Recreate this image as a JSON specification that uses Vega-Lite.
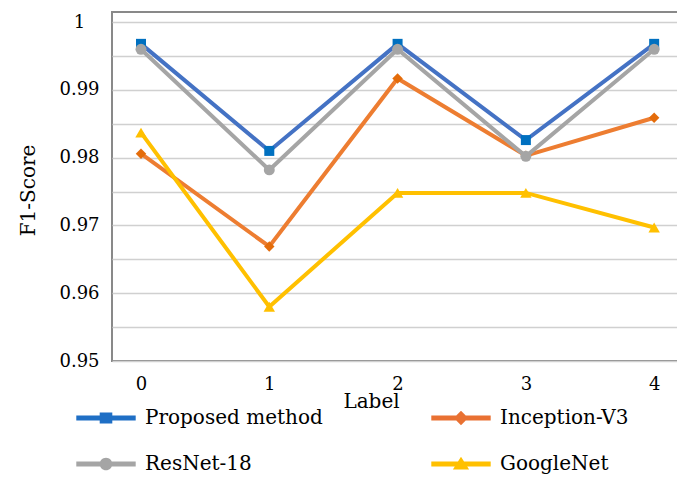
{
  "$schema": "https://vega.github.io/schema/vega-lite/v6.json",
  "width": 570,
  "height": 349,
  "autosize": {"type": "none"},
  "padding": {"left": 112, "top": 12, "right": 0, "bottom": 116},
  "background": "white",
  "config": {
    "font": "DejaVu Serif",
    "view": {"stroke": "#898989", "strokeWidth": 2},
    "axis": {"labelFont": "DejaVu Serif", "titleFont": "DejaVu Serif", "labelColor": "#000000", "titleColor": "#000000", "titleFontWeight": "normal"}
  },
  "data": {
    "values": [
      {"series": "Proposed method", "label": 0, "f1": 0.9968},
      {"series": "Proposed method", "label": 1, "f1": 0.9810},
      {"series": "Proposed method", "label": 2, "f1": 0.9968},
      {"series": "Proposed method", "label": 3, "f1": 0.9826},
      {"series": "Proposed method", "label": 4, "f1": 0.9968},
      {"series": "Inception-V3", "label": 0, "f1": 0.9806},
      {"series": "Inception-V3", "label": 1, "f1": 0.9669},
      {"series": "Inception-V3", "label": 2, "f1": 0.9917},
      {"series": "Inception-V3", "label": 3, "f1": 0.9803},
      {"series": "Inception-V3", "label": 4, "f1": 0.9859},
      {"series": "ResNet-18", "label": 0, "f1": 0.9960},
      {"series": "ResNet-18", "label": 1, "f1": 0.9782},
      {"series": "ResNet-18", "label": 2, "f1": 0.9960},
      {"series": "ResNet-18", "label": 3, "f1": 0.9802},
      {"series": "ResNet-18", "label": 4, "f1": 0.9960},
      {"series": "GoogleNet", "label": 0, "f1": 0.9837},
      {"series": "GoogleNet", "label": 1, "f1": 0.9580},
      {"series": "GoogleNet", "label": 2, "f1": 0.9748},
      {"series": "GoogleNet", "label": 3, "f1": 0.9748},
      {"series": "GoogleNet", "label": 4, "f1": 0.9697}
    ]
  },
  "encoding": {
    "x": {
      "field": "label", "type": "quantitative",
      "scale": {"domain": [-0.226, 4.217], "nice": false, "zero": false},
      "axis": {
        "values": [0, 1, 2, 3, 4], "grid": false, "ticks": false, "domain": false,
        "labelFontSize": 18, "labelPadding": 14, "labelFlush": false,
        "title": "Label", "titleFontSize": 20, "titleX": 259, "titleY": 40,
        "titleBaseline": "middle", "titleAnchor": "middle", "titleAlign": "center"
      }
    },
    "y": {
      "field": "f1", "type": "quantitative",
      "scale": {"domain": [0.95, 1.0015], "nice": false, "zero": false},
      "axis": {
        "values": [0.95, 0.955, 0.96, 0.965, 0.97, 0.975, 0.98, 0.985, 0.99, 0.995, 1.0],
        "labelExpr": "round(datum.value*200)%2==0 ? (datum.value>0.9999 ? '1' : format(datum.value,'.2f')) : ''",
        "grid": true, "gridColor": "#D0D0D0", "gridWidth": 1.5,
        "ticks": false, "domain": false,
        "labelFontSize": 18, "labelPadding": 33, "labelAlign": "center",
        "title": "F1-Score", "titleFontSize": 20, "titleX": -84, "titleY": 178,
        "titleAngle": 270, "titleAlign": "center", "titleBaseline": "middle"
      }
    }
  },
  "layer": [
    {
      "mark": {"type": "line", "strokeWidth": 4},
      "encoding": {
        "color": {
          "field": "series", "type": "nominal",
          "scale": {"domain": ["Proposed method", "Inception-V3", "ResNet-18", "GoogleNet"], "range": ["#4472C4", "#ED7D31", "#A5A5A5", "#FFC000"]},
          "legend": null
        },
        "detail": {"field": "series"}
      }
    },
    {
      "mark": {"type": "point", "filled": true, "opacity": 1},
      "encoding": {
        "color": {
          "field": "series", "type": "nominal",
          "scale": {"domain": ["Proposed method", "Inception-V3", "ResNet-18", "GoogleNet"], "range": ["#0070C0", "#E46C0A", "#A5A5A5", "#FFC000"]},
          "legend": null
        },
        "shape": {
          "field": "series", "type": "nominal",
          "scale": {"domain": ["Proposed method", "Inception-V3", "ResNet-18", "GoogleNet"], "range": ["square", "diamond", "circle", "triangle-up"]},
          "legend": null
        },
        "size": {
          "field": "series", "type": "nominal",
          "scale": {"domain": ["Proposed method", "Inception-V3", "ResNet-18", "GoogleNet"], "range": [100, 130, 110, 190]},
          "legend": null
        }
      }
    },
    {
      "mark": {"type": "point", "filled": true, "opacity": 0},
      "encoding": {
        "color": {
          "field": "series", "type": "nominal",
          "scale": {"domain": ["Proposed method", "Inception-V3", "ResNet-18", "GoogleNet"], "range": ["#1F6FC5", "#E97132", "#A5A5A5", "#FFC000"]},
          "legend": {
            "title": null, "orient": "none", "legendX": -16, "legendY": 396,
            "columns": 2, "direction": "horizontal",
            "columnPadding": 108, "rowPadding": 26,
            "symbolSize": 324, "labelOffset": 29,
            "labelFontSize": 20, "labelFont": "DejaVu Serif", "labelColor": "#000000",
            "labelLimit": 300, "symbolOpacity": 1,
            "encode": {"symbols": {"update": {"opacity": {"value": 1}, "fillOpacity": {"value": 1}}}}
          }
        },
        "shape": {
          "field": "series", "type": "nominal",
          "scale": {"domain": ["Proposed method", "Inception-V3", "ResNet-18", "GoogleNet"], "range": [
            "M-3.3,-0.28H3.3V0.28H-3.3Z M-0.7,-0.6H0.7V0.6H-0.7Z",
            "M-3.3,-0.28H3.3V0.28H-3.3Z M-0.8,0L0,-0.8L0.8,0L0,0.8Z",
            "M-3.3,-0.28H3.3V0.28H-3.3Z M-0.7,0A0.7,0.7 0 1,1 0.7,0A0.7,0.7 0 1,1 -0.7,0Z",
            "M-3.3,-0.28H3.3V0.28H-3.3Z M-0.9,0.6L0,-0.8L0.9,0.6Z"
          ]},
          "legend": null
        }
      }
    }
  ],
  "resolve": {"scale": {"color": "independent", "shape": "independent", "size": "independent"}}
}
